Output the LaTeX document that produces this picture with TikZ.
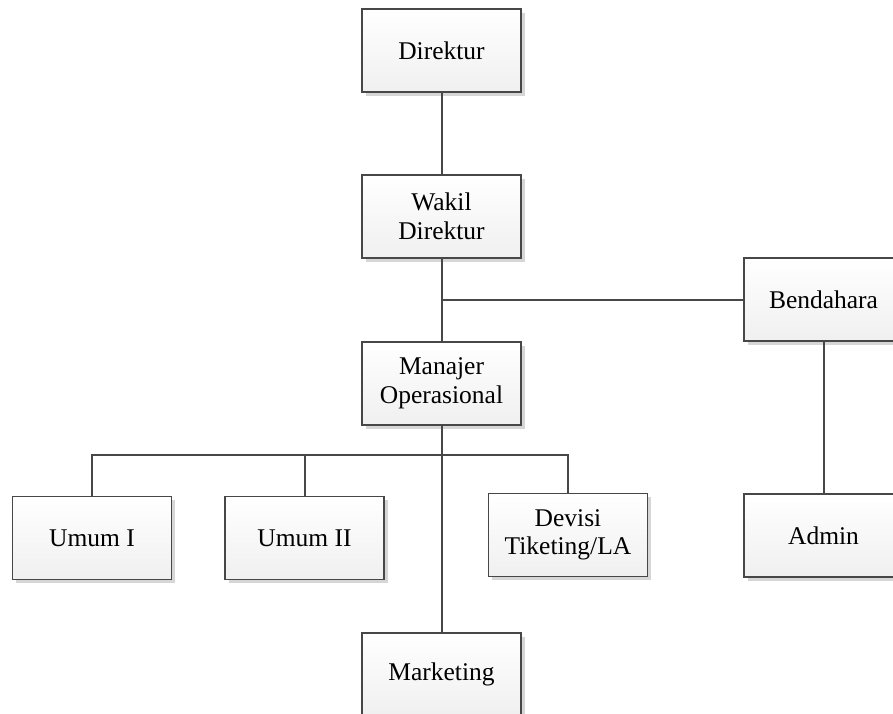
\documentclass[tikz,border=0pt]{standalone}
\usepackage{fontspec}
\setmainfont{Liberation Serif}
\usetikzlibrary{shadows}
\begin{document}
\begin{tikzpicture}[x=1pt,y=-1pt,
  unit/.style={draw=black!72, line width=1.3pt, top color=white, bottom color=black!6,
    minimum width=159pt, minimum height=83pt, align=center, inner sep=2pt,
    font=\fontsize{25.5}{28.5}\selectfont,
    drop shadow={shadow xshift=3.5pt, shadow yshift=-3.5pt, fill=black!16, opacity=1}},
  link/.style={draw=black!72, line width=2pt}]
\useasboundingbox (0,0) rectangle (893,713);
\clip (0,0) rectangle (893,713);
% boxes
\node[unit] (dir)  at (441.5,50.5)  {Direktur};
\node[unit] (wdir) at (441.5,216.5) {Wakil\\Direktur};
\node[unit] (mop)  at (441.5,383.5) {Manajer\\Operasional};
\node[unit] (bend) at (823.5,299.5) {Bendahara};
\node[unit] (um1)  at (92,538)      {Umum I};
\node[unit] (um2)  at (304.5,538)   {Umum II};
\node[unit] (tik)  at (568,535)     {Devisi\\Tiketing/LA};
\node[unit] (adm)  at (823.5,535.5) {Admin};
\node[unit] (mkt)  at (441.5,674.5) {Marketing};
% junctions
\coordinate (jb) at (441.5,299.5);
\coordinate (jl) at (92,455);
\coordinate (jr) at (568,455);
\coordinate (jm) at (441.5,455);
% connectors
\path[link] (dir.south) -- (wdir.north);
\path[link] (wdir.south) -- (mop.north);
\path[link] (jb) -- (bend.west);
\path[link] (bend.south) -- (adm.north);
\path[link] (mop.south) -- (mkt.north);
\path[link] (um1.north) -- (jl) -- (jr) -- (tik.north);
\path[link] (um2.north) -- (um2.north |- jm);
\end{tikzpicture}
\end{document}
